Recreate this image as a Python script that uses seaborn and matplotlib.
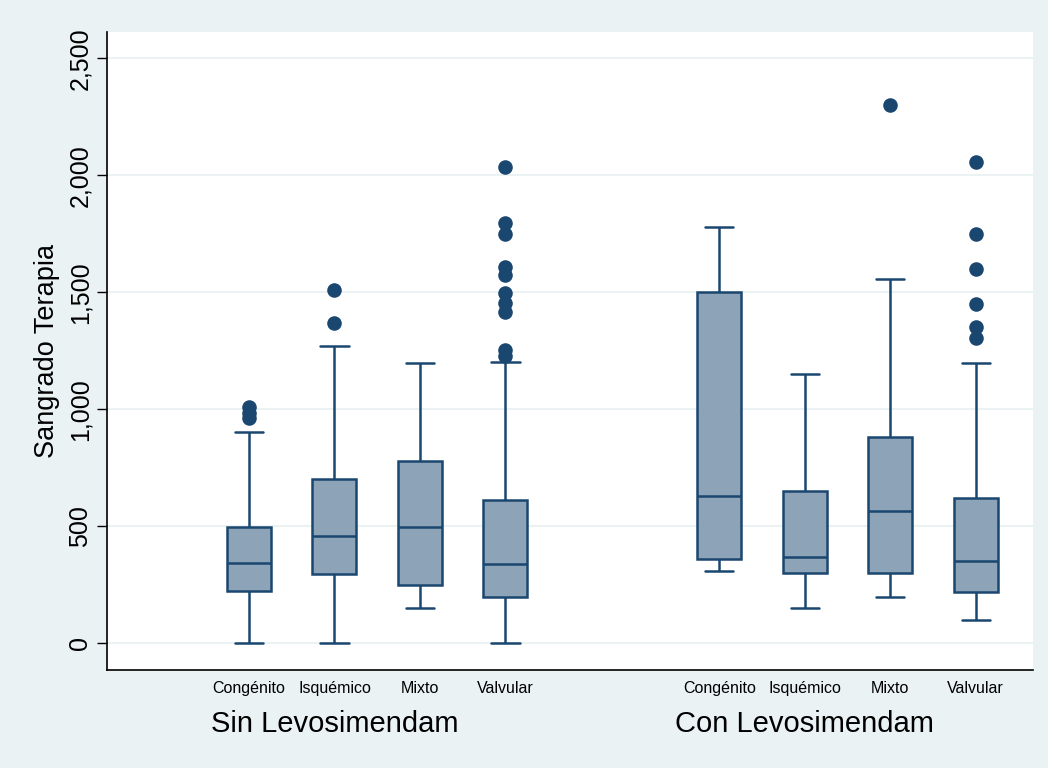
"""
Sangrado Terapia by etiology, with and without Levosimendam (Stata-style box plot)
"""

import numpy as np
import pandas as pd
import matplotlib.pyplot as plt
import matplotlib.transforms as mtransforms
from matplotlib.ticker import StrMethodFormatter
import seaborn as sns

GROUPS = ["Sin Levosimendam", "Con Levosimendam"]
CATEGORIES = ["Congénito", "Isquémico", "Mixto", "Valvular"]

# five-number summaries: lower whisker, q1, median, q3, upper whisker
SIN_LOW = [0, 0, 150, 0]
SIN_Q1 = [225, 297, 250, 200]
SIN_MEDIAN = [345, 460, 497, 340]
SIN_Q3 = [498, 700, 780, 612]
SIN_HIGH = [903, 1270, 1198, 1200]

CON_LOW = [309, 151, 200, 101]
CON_Q1 = [360, 302, 302, 220]
CON_MEDIAN = [630, 370, 565, 350]
CON_Q3 = [1500, 650, 880, 620]
CON_HIGH = [1780, 1150, 1557, 1198]

# outside values
SIN_OUTLIERS = [
    [962, 985, 1010],
    [1367, 1508],
    [],
    [1228, 1253, 1417, 1453, 1498, 1574, 1609, 1749, 1797, 2034],
]
CON_OUTLIERS = [
    [],
    [],
    [2300],
    [1303, 1353, 1449, 1598, 1749, 2057],
]

Y_TICKS = [0, 500, 1000, 1500, 2000, 2500]

BG = "#EAF2F3"
NAVY = "#1A476F"
FILL = "#8DA3B7"

GROUP_STEP = len(CATEGORIES) + 1.5


def build_frames():
    summaries = [
        (SIN_LOW, SIN_Q1, SIN_MEDIAN, SIN_Q3, SIN_HIGH),
        (CON_LOW, CON_Q1, CON_MEDIAN, CON_Q3, CON_HIGH),
    ]
    outliers = [SIN_OUTLIERS, CON_OUTLIERS]

    box_rows, out_rows = [], []
    for gi, group in enumerate(GROUPS):
        for ci, cat in enumerate(CATEGORIES):
            pos = gi * GROUP_STEP + ci
            for arr in summaries[gi]:
                box_rows.append({"group": group, "cat": cat, "pos": pos, "value": arr[ci]})
            for v in outliers[gi][ci]:
                out_rows.append({"group": group, "cat": cat, "pos": pos, "value": v})
    return pd.DataFrame(box_rows), pd.DataFrame(out_rows)


def main():
    box_df, out_df = build_frames()

    sns.set_theme(style="white")
    plt.rcParams["font.family"] = ["Liberation Sans", "DejaVu Sans"]

    fig = plt.figure(figsize=(10.48, 7.68), dpi=100, facecolor=BG)
    ax = fig.add_axes([0.1021, 0.1276, 0.8836, 0.8307])
    ax.set_facecolor("white")

    # with five values per box, quartiles land exactly on the summary values
    sns.boxplot(
        data=box_df,
        x="pos",
        y="value",
        native_scale=True,
        whis=(0, 100),
        width=0.514,
        color=FILL,
        saturation=1,
        linecolor=NAVY,
        linewidth=1.8,
        showfliers=False,
        capwidths=0.33,
        ax=ax,
    )
    sns.scatterplot(
        data=out_df,
        x="pos",
        y="value",
        color=NAVY,
        s=110,
        linewidth=0,
        legend=False,
        ax=ax,
        zorder=3,
    )

    positions = [gi * GROUP_STEP + ci for gi in range(len(GROUPS)) for ci in range(len(CATEGORIES))]
    ax.set_xticks(positions, CATEGORIES * len(GROUPS))
    ax.set_xlim(-1.66, 9.17)
    ax.set_ylim(-114, 2612)
    ax.set_yticks(Y_TICKS)
    ax.yaxis.set_major_formatter(StrMethodFormatter("{x:,.0f}"))
    plt.setp(ax.get_yticklabels(), rotation=90, va="center")

    ax.yaxis.grid(True, color=BG, linewidth=1.5)
    ax.set_axisbelow(True)

    ax.tick_params(axis="x", length=0, labelsize=11.5, pad=8, colors="black")
    ax.tick_params(axis="y", left=True, length=7.5, width=1, direction="out",
                   labelsize=18, pad=3, colors="black")

    ax.set_xlabel("")
    ax.set_ylabel("Sangrado Terapia", fontsize=19.5, labelpad=6, color="black")

    for side in ("top", "right"):
        ax.spines[side].set_visible(False)
    for side in ("left", "bottom"):
        ax.spines[side].set_color("black")
        ax.spines[side].set_linewidth(1.2)

    # group titles under the category labels
    trans = mtransforms.blended_transform_factory(ax.transData, ax.transAxes)
    for gi, group in enumerate(GROUPS):
        ax.text(gi * GROUP_STEP + 1, -0.085, group, transform=trans,
                ha="center", va="center", fontsize=21, color="black")

    fig.savefig("out.png", dpi=100, facecolor=BG)


if __name__ == "__main__":
    main()
